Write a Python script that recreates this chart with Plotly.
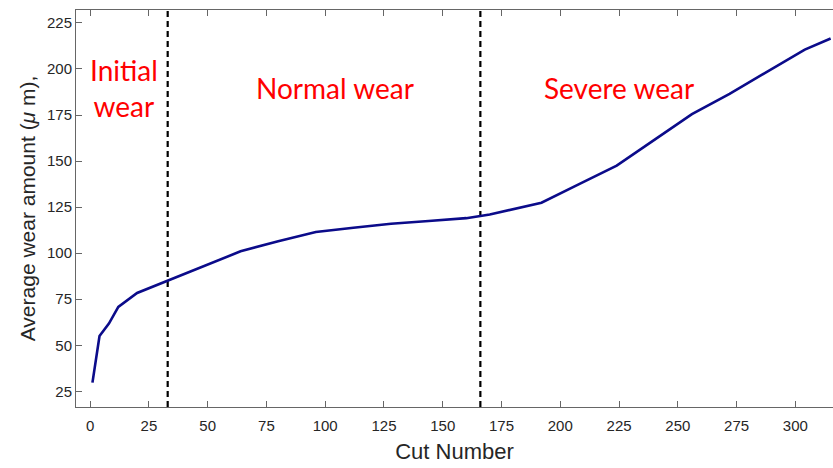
import plotly.graph_objects as go

# Average tool wear per cut
cut_number = [1, 4, 8, 12, 20, 33, 48, 64, 80, 96, 112, 128, 144, 160, 170,
              192, 208, 224, 240, 256, 272, 288, 304, 315]
wear_um = [29.7, 55.0, 61.8, 70.8, 78.4, 85.0, 92.7, 101.0, 106.5, 111.5,
           113.8, 116.0, 117.5, 119.0, 121.0, 127.4, 137.5, 147.5, 161.5,
           175.5, 186.5, 198.5, 210.5, 216.5]

# Boundaries between wear stages
stage_bounds = [33, 166]

# Stage labels: (text, x, y)
stage_labels = [("Initial<br>wear", 14.5, 189.5),
                ("Normal wear", 104, 189.5),
                ("Severe wear", 225, 189.5)]

x_ticks = list(range(0, 301, 25))
y_ticks = list(range(25, 226, 25))
x_range = [-6, 316]
y_range = [16.5, 232]

fig = go.Figure()

for xb in stage_bounds:
    fig.add_trace(go.Scatter(
        x=[xb, xb], y=y_range, mode="lines",
        line=dict(color="black", width=2.2, dash="6px,4px"),
        hoverinfo="skip", showlegend=False))

fig.add_trace(go.Scatter(
    x=cut_number, y=wear_um, mode="lines",
    line=dict(color="#0b0b8a", width=2.6),
    showlegend=False))

for text, x, y in stage_labels:
    fig.add_annotation(x=x, y=y, text=text, showarrow=False,
                       font=dict(family="Lato", size=28, color="#ff0000"),
                       xanchor="center", yanchor="middle")

axis_font = dict(family="Liberation Sans", size=15, color="#262626")

fig.update_xaxes(
    range=x_range, tickvals=x_ticks, ticks="inside", ticklen=6,
    tickcolor="#666666", showline=True, linecolor="#666666", linewidth=1,
    mirror="ticks", showgrid=False, zeroline=False, tickfont=axis_font,
    ticklabelstandoff=5,
    title=dict(text="Cut Number",
               font=dict(family="Liberation Sans", size=22, color="#262626"),
               standoff=10))
fig.update_yaxes(
    range=y_range, tickvals=y_ticks, ticks="inside", ticklen=6,
    tickcolor="#666666", showline=True, linecolor="#666666", linewidth=1,
    mirror=False, showgrid=False, zeroline=False, tickfont=axis_font,
    title=dict(text="Average wear amount (<i>μ</i> m),",
               font=dict(family="Liberation Sans", size=21, color="#262626"),
               standoff=5))

fig.update_layout(
    width=833, height=468,
    margin=dict(l=76, r=0, t=10, b=61),
    plot_bgcolor="white", paper_bgcolor="white",
)

fig.write_html("out.html")
